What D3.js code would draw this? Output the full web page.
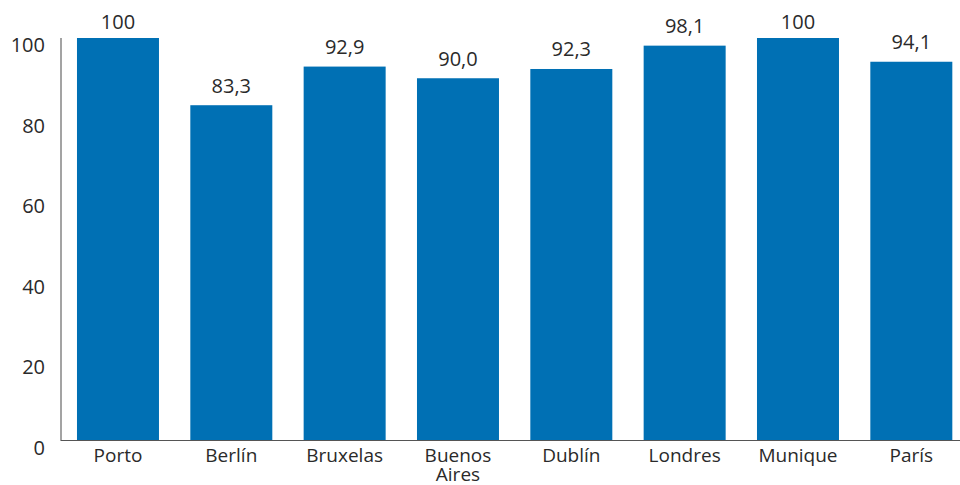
<!DOCTYPE html>
<html><head><meta charset="utf-8">
<script src="https://cdn.jsdelivr.net/npm/d3@7"></script>
<style>body{margin:0;background:#fff}svg{display:block;font-family:"Open Sans",sans-serif}</style>
</head><body><svg id="c" width="960" height="485"></svg>
<script>
const categories = ["Porto","Berlín","Bruxelas","Buenos Aires","Dublín","Londres","Munique","París"];
const values = [100, 83.3, 92.9, 90.0, 92.3, 98.1, 100, 94.1];
const valueLabels = ["100","83,3","92,9","90,0","92,3","98,1","100","94,1"];
const yTicks = [0,20,40,60,80,100];

const svg = d3.select("#c");
const x0 = 61, yBase = 440.5, yTop = 38;
const x = d3.scaleBand().domain(categories).range([x0, 968.3]).paddingInner(0.2765).paddingOuter(0.141);
const y = d3.scaleLinear().domain([0,100]).range([yBase, yTop]);

svg.selectAll("rect.bar").data(categories).join("rect")
  .attr("class","bar")
  .attr("x", d => x(d)).attr("width", x.bandwidth())
  .attr("y", (d,i) => y(values[i])).attr("height", (d,i) => yBase - y(values[i]))
  .attr("fill","#0070b4");

// axes lines
svg.append("line").attr("x1",x0).attr("x2",x0).attr("y1",yTop).attr("y2",yBase+0.5)
  .attr("stroke","#666").attr("stroke-width",1.2);
svg.append("line").attr("x1",x0).attr("x2",960).attr("y1",yBase).attr("y2",yBase)
  .attr("stroke","#555").attr("stroke-width",1.2);

// y tick labels
svg.selectAll("text.yt").data(yTicks).join("text")
  .attr("class","yt").attr("x",45).attr("y", d => y(d) + 14.3)
  .attr("text-anchor","end").attr("font-size",20).attr("fill","#2a2a2a")
  .text(d => d);

// value labels
svg.selectAll("text.vl").data(categories).join("text")
  .attr("class","vl")
  .attr("x", d => x(d) + x.bandwidth()/2)
  .attr("y", (d,i) => Math.max(y(values[i]) - 12.5, 29.3))
  .attr("text-anchor","middle").attr("font-size",20).attr("fill","#2a2a2a")
  .text((d,i) => valueLabels[i]);

// category labels (one text element per line)
const lines = [];
categories.forEach(c => c.split(" ").forEach((w,i) => lines.push({c, w, i})));
svg.selectAll("text.cl").data(lines).join("text")
  .attr("class","cl")
  .attr("x", d => x(d.c) + x.bandwidth()/2)
  .attr("y", d => 462 + d.i * 19)
  .attr("text-anchor","middle").attr("font-size",19).attr("fill","#2a2a2a")
  .text(d => d.w);
</script></body></html>
